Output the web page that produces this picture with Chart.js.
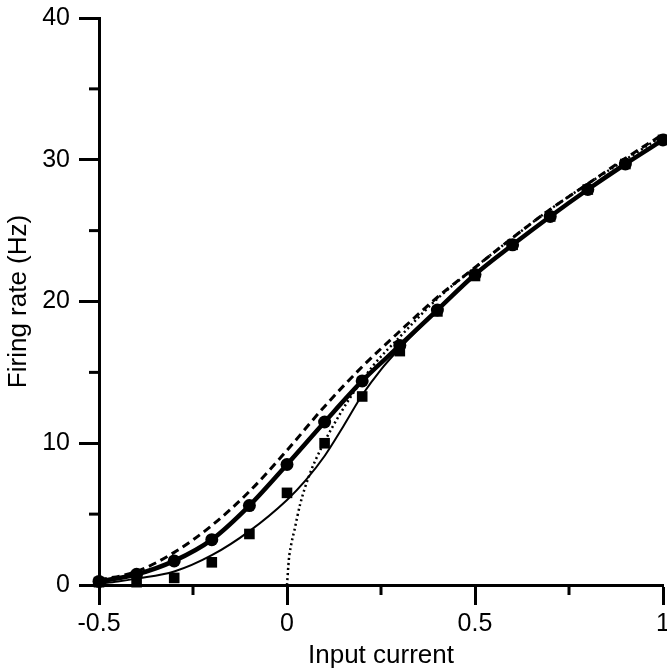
<!DOCTYPE html>
<html>
<head>
<meta charset="utf-8">
<script src="https://cdn.jsdelivr.net/npm/chart.js@4/dist/chart.umd.min.js"></script>
<style>
  html, body { margin: 0; padding: 0; background: #fff; overflow: hidden; }
  canvas { display: block; }
</style>
</head>
<body>
<canvas id="c" width="667" height="671"></canvas>
<script>
// ---- data ----
const inputCurrent = [-0.5, -0.4, -0.3, -0.2, -0.1, 0, 0.1, 0.2, 0.3, 0.4, 0.5, 0.6, 0.7, 0.8, 0.9, 1.0];
const circleRates  = [0.25, 0.75, 1.7, 3.2, 5.6, 8.5, 11.5, 14.4, 16.9, 19.4, 21.9, 24.0, 26.0, 27.9, 29.7, 31.4];
const squareRates  = [0.2, 0.2, 0.5, 1.6, 3.6, 6.5, 10.0, 13.3, 16.5, 19.3, 21.8, 24.0, 26.0, 27.9, 29.7, 31.4];

const thinX = [-0.5, -0.45, -0.4, -0.3, -0.2, -0.1, 0, 0.05, 0.1, 0.15, 0.2, 0.25, 0.3, 0.4, 0.5, 0.6, 0.7, 0.8, 0.9, 1.0];
const thinY = [0.1, 0.25, 0.45, 0.95, 2.1, 3.8, 6.0, 7.4, 9.1, 11.2, 13.4, 15.2, 16.7, 19.4, 21.9, 24.0, 26.0, 27.9, 29.7, 31.4];

const dashedX = [-0.5, -0.4, -0.3, -0.2, -0.1, 0, 0.1, 0.2, 0.3, 0.4, 0.5, 0.6, 0.7, 0.8, 0.9, 1.0];
const dashedY = [0.35, 0.95, 2.3, 4.2, 6.6, 9.5, 12.6, 15.4, 17.9, 20.3, 22.4, 24.5, 26.5, 28.3, 30.1, 31.8];

const dottedX = [0, 0.005, 0.01, 0.02, 0.035, 0.06, 0.09, 0.12, 0.17, 0.23, 0.3, 0.4, 0.5, 0.6, 0.7, 0.8, 0.9, 1.0];
const dottedY = [0, 1.8, 2.7, 3.9, 5.7, 7.8, 9.6, 11.1, 13.3, 15.5, 17.5, 20.2, 22.4, 24.5, 26.5, 28.3, 30.0, 31.7];

const xTickLabels = ['-0.5', '0', '0.5', '1'];
const xTickValues = [-0.5, 0, 0.5, 1];
const yTickLabels = ['0', '10', '20', '30', '40'];
const yTickValues = [0, 10, 20, 30, 40];
const xMinorTicks = [-0.25, 0.25, 0.75];
const yMinorTicks = [5, 15, 25, 35];

const xTitle = 'Input current';
const yTitle = 'Firing rate (Hz)';

// ---- helpers ----
const pts = (xs, ys) => xs.map((x, i) => ({x: x, y: ys[i]}));
const FONT = "'Liberation Sans', Arial, Helvetica, sans-serif";

const minorTicks = {
  id: 'minorTicks',
  afterDraw(chart) {
    const ctx = chart.ctx;
    const xs = chart.scales.x, ys = chart.scales.y;
    const left = chart.chartArea.left, bottom = chart.chartArea.bottom;
    ctx.save();
    ctx.strokeStyle = '#000';
    ctx.lineWidth = 3;
    ctx.lineCap = 'butt';
    yMinorTicks.forEach(v => {
      const p = ys.getPixelForValue(v);
      ctx.beginPath(); ctx.moveTo(left - 10, p); ctx.lineTo(left, p); ctx.stroke();
    });
    xMinorTicks.forEach(v => {
      const p = xs.getPixelForValue(v);
      ctx.beginPath(); ctx.moveTo(p, bottom); ctx.lineTo(p, bottom + 10); ctx.stroke();
    });
    ctx.restore();
  }
};

new Chart(document.getElementById('c'), {
  type: 'scatter',
  data: {
    datasets: [
      { // circles with thick line
        data: pts(inputCurrent, circleRates),
        showLine: true, borderColor: '#000', borderWidth: 4.5,
        pointStyle: 'circle', pointRadius: 6.5, pointBackgroundColor: '#000', pointBorderWidth: 0,
        cubicInterpolationMode: 'monotone', clip: false, order: 1
      },
      { // squares
        data: pts(inputCurrent, squareRates),
        showLine: false,
        pointStyle: 'rect', pointRadius: 7.5, pointBackgroundColor: '#000', pointBorderWidth: 0,
        clip: false, order: 2
      },
      { // thin solid fit
        data: pts(thinX, thinY),
        showLine: true, borderColor: '#000', borderWidth: 2, pointRadius: 0,
        cubicInterpolationMode: 'monotone', clip: false, order: 3
      },
      { // dashed
        data: pts(dashedX, dashedY),
        showLine: true, borderColor: '#000', borderWidth: 3, borderDash: [8, 5], pointRadius: 0,
        cubicInterpolationMode: 'monotone', clip: false, order: 4
      },
      { // dotted
        data: pts(dottedX, dottedY),
        showLine: true, borderColor: '#000', borderWidth: 2.5, borderDash: [2, 3], pointRadius: 0,
        cubicInterpolationMode: 'monotone', clip: false, order: 5
      }
    ]
  },
  options: {
    responsive: false,
    animation: false,
    events: [],
    layout: { autoPadding: false, padding: { top: 18, right: 4, bottom: 0, left: 0 } },
    plugins: { legend: { display: false }, tooltip: { enabled: false } },
    scales: {
      x: {
        type: 'linear', min: -0.5, max: 1,
        afterBuildTicks(s) { s.ticks = xTickValues.map(v => ({value: v})); },
        afterFit(s) { s.height = 86; s.paddingLeft = 0; s.paddingRight = 0; },
        ticks: {
          color: '#000', padding: 4, maxRotation: 0, autoSkip: false,
          font: { family: FONT, size: 25 },
          callback: (v, i) => xTickLabels[i]
        },
        grid: { drawOnChartArea: false, drawTicks: true, tickLength: 20, tickWidth: 3, tickColor: '#000' },
        border: { display: true, color: '#000', width: 3 },
        title: { display: true, text: xTitle, color: '#000', font: { family: FONT, size: 26 }, padding: { top: 0, bottom: 0 } }
      },
      y: {
        type: 'linear', min: 0, max: 40,
        afterBuildTicks(s) { s.ticks = yTickValues.map(v => ({value: v})); },
        afterFit(s) { s.width = 99; s.paddingTop = 0; s.paddingBottom = 0; },
        ticks: {
          color: '#000', padding: 9,
          font: { family: FONT, size: 25 },
          callback: (v, i) => yTickLabels[i]
        },
        grid: { drawOnChartArea: false, drawTicks: true, tickLength: 20, tickWidth: 3, tickColor: '#000' },
        border: { display: true, color: '#000', width: 3 },
        title: { display: true, text: yTitle, color: '#000', font: { family: FONT, size: 26 }, padding: { top: 3, bottom: 0 } }
      }
    }
  },
  plugins: [minorTicks]
});
</script>
</body>
</html>
